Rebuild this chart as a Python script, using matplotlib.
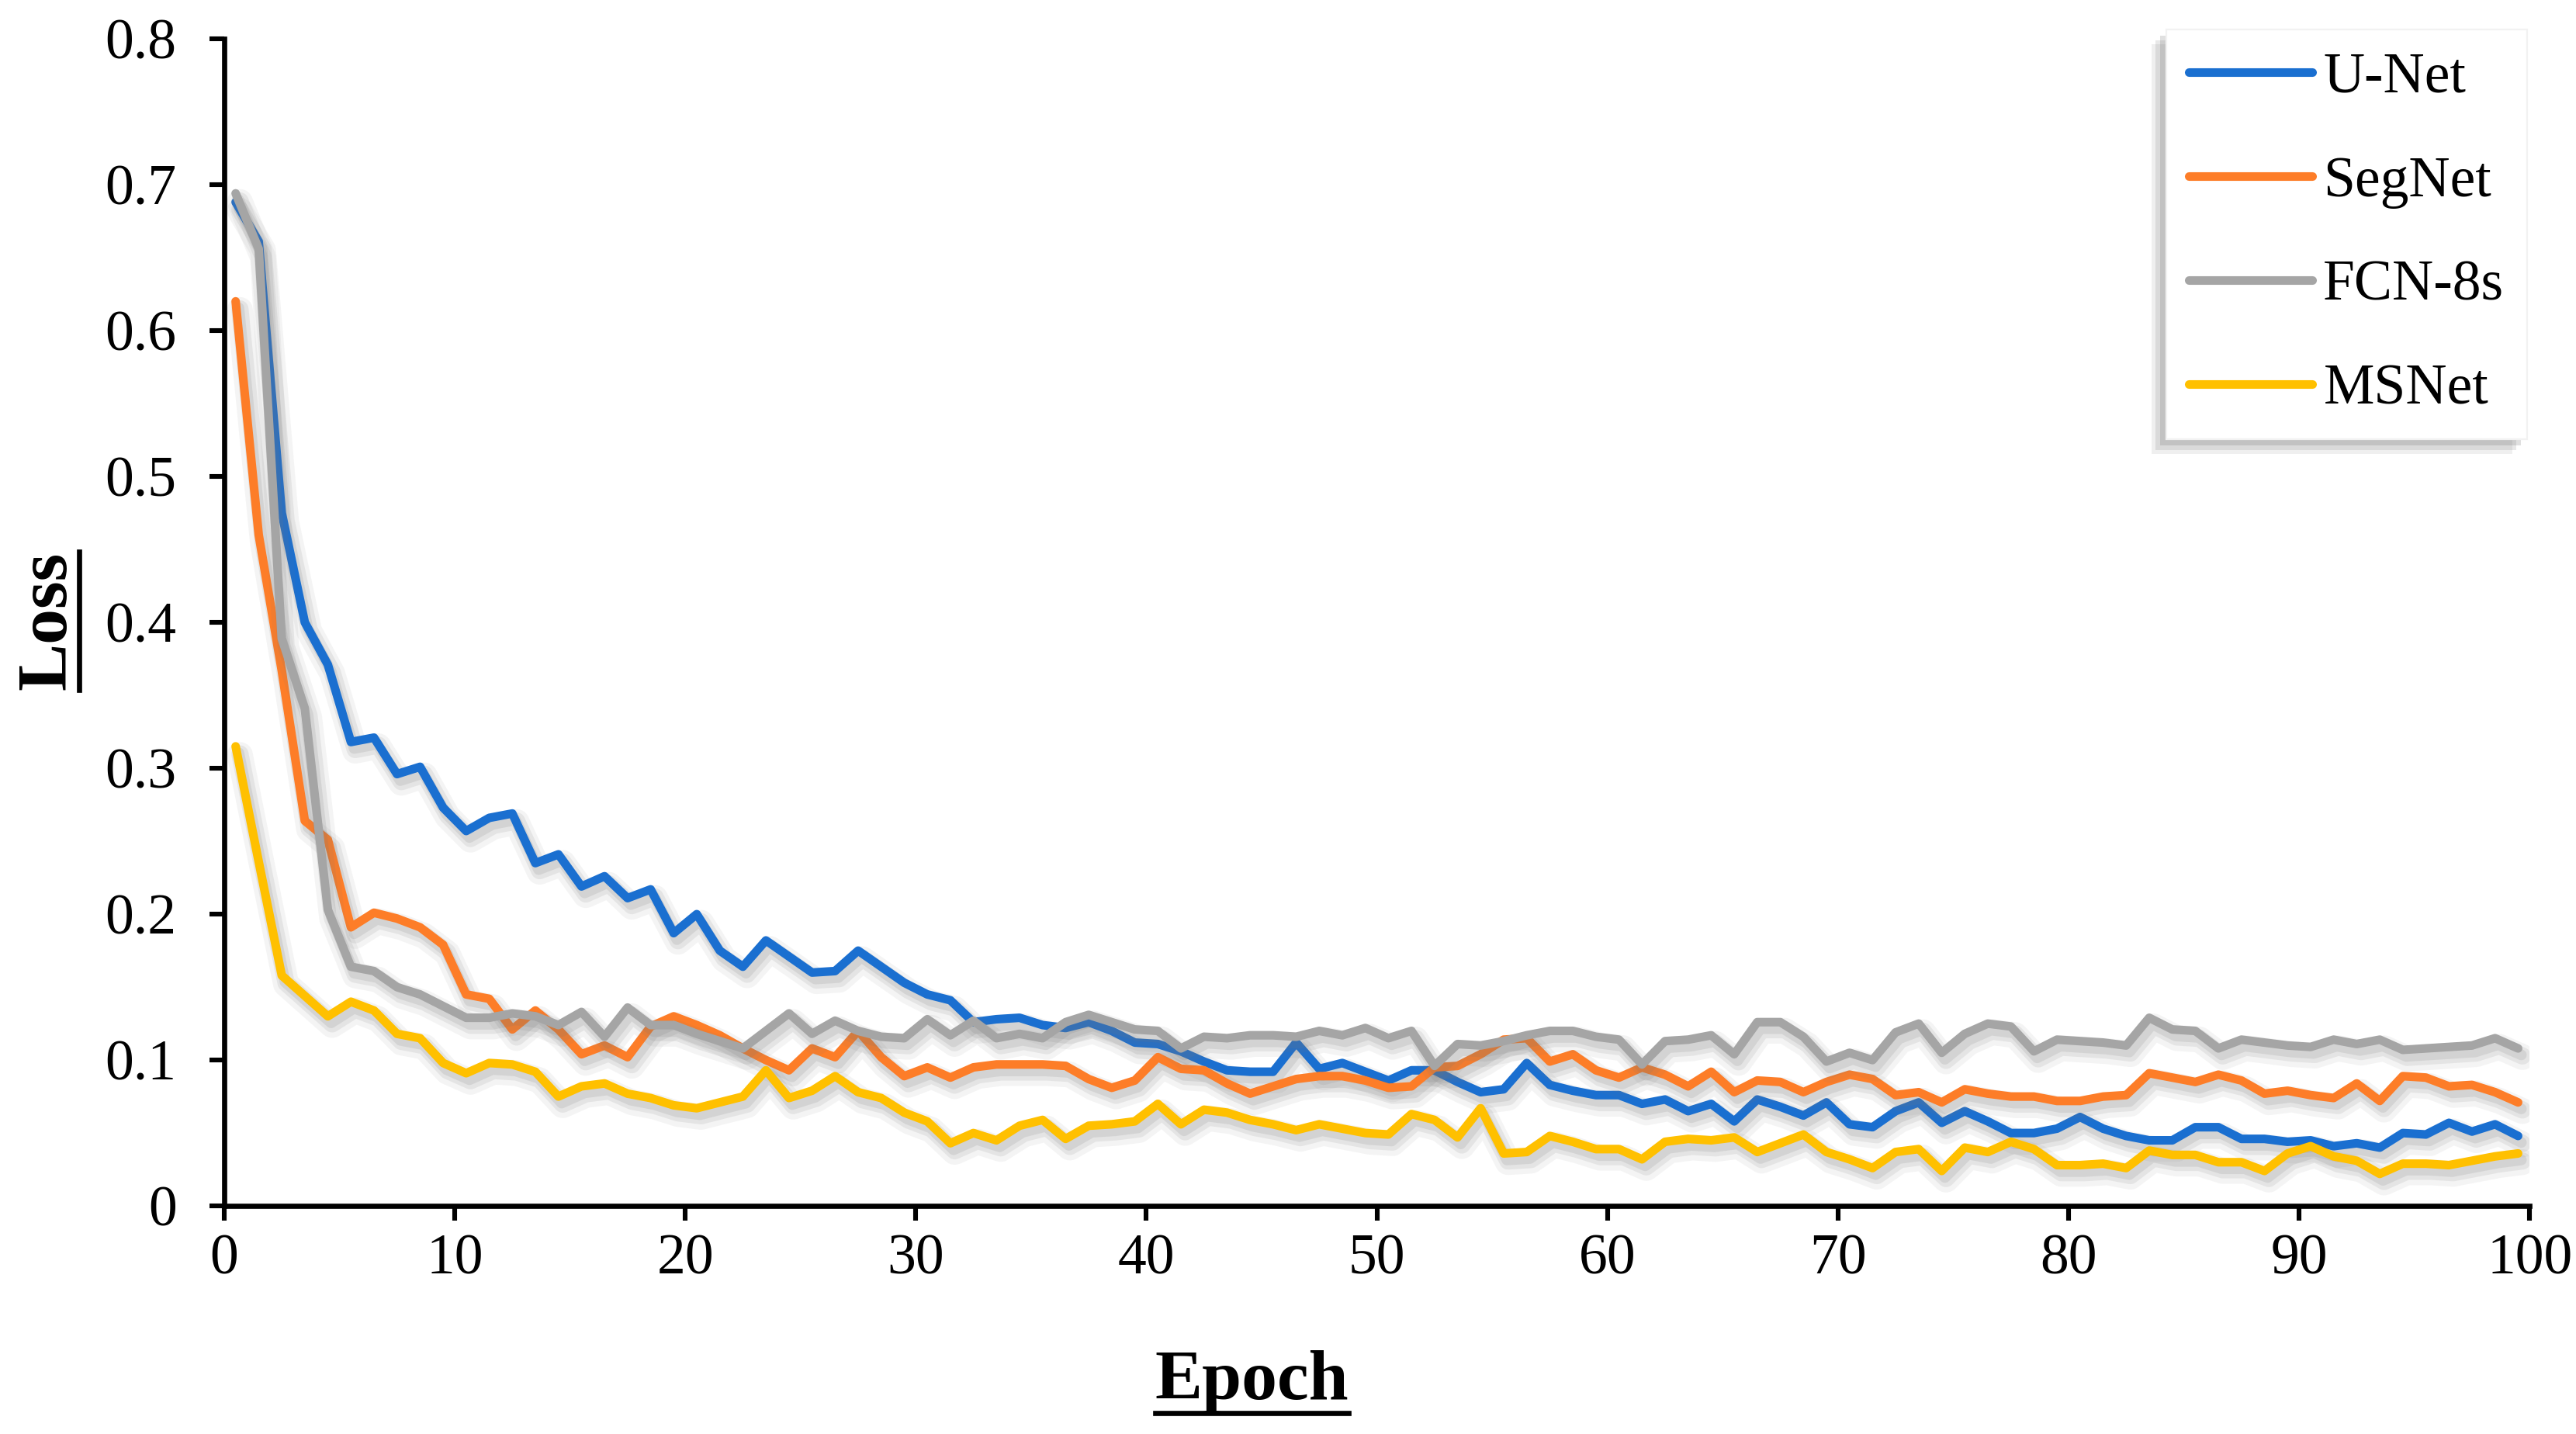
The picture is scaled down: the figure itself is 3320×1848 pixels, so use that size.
import matplotlib
matplotlib.use('Agg')
import matplotlib.pyplot as plt
import matplotlib.patheffects as pe
from matplotlib.lines import Line2D
import numpy as np

epochs = np.arange(1, 101)

unet = [0.688, 0.661, 0.475, 0.400, 0.371, 0.318, 0.321, 0.296, 0.301, 0.273,
        0.257, 0.266, 0.269, 0.235, 0.241, 0.219, 0.226, 0.211, 0.217, 0.187,
        0.200, 0.175, 0.164, 0.182, 0.171, 0.160, 0.161, 0.175, 0.164, 0.153,
        0.145, 0.141, 0.126, 0.128, 0.129, 0.124, 0.122, 0.126, 0.120, 0.112,
        0.111, 0.106, 0.099, 0.093, 0.092, 0.092, 0.112, 0.094, 0.098, 0.092,
        0.086, 0.093, 0.093, 0.085, 0.078, 0.080, 0.098, 0.083, 0.079, 0.076,
        0.076, 0.070, 0.073, 0.065, 0.070, 0.058, 0.073, 0.068, 0.062, 0.071,
        0.056, 0.054, 0.065, 0.071, 0.057, 0.065, 0.058, 0.050, 0.050, 0.053,
        0.061, 0.053, 0.048, 0.045, 0.045, 0.054, 0.054, 0.046, 0.046, 0.044,
        0.045, 0.041, 0.043, 0.040, 0.050, 0.049, 0.057, 0.051, 0.056, 0.048]

segnet = [0.620, 0.460, 0.367, 0.264, 0.251, 0.191, 0.201, 0.197, 0.191, 0.179,
          0.145, 0.142, 0.121, 0.134, 0.121, 0.104, 0.110, 0.102, 0.123, 0.130,
          0.124, 0.117, 0.108, 0.100, 0.093, 0.108, 0.102, 0.120, 0.102, 0.089,
          0.095, 0.088, 0.095, 0.097, 0.097, 0.097, 0.096, 0.087, 0.081, 0.086,
          0.102, 0.094, 0.093, 0.084, 0.077, 0.082, 0.087, 0.089, 0.089, 0.086,
          0.081, 0.082, 0.095, 0.096, 0.104, 0.114, 0.115, 0.099, 0.104, 0.093,
          0.088, 0.095, 0.090, 0.082, 0.092, 0.078, 0.086, 0.085, 0.078, 0.085,
          0.090, 0.087, 0.076, 0.078, 0.071, 0.080, 0.077, 0.075, 0.075, 0.072,
          0.072, 0.075, 0.076, 0.091, 0.088, 0.085, 0.090, 0.086, 0.077, 0.079,
          0.076, 0.074, 0.084, 0.072, 0.089, 0.088, 0.082, 0.083, 0.078, 0.071]

fcn8s = [0.694, 0.656, 0.389, 0.341, 0.203, 0.164, 0.161, 0.150, 0.145, 0.137,
         0.129, 0.129, 0.132, 0.130, 0.124, 0.133, 0.116, 0.136, 0.124, 0.124,
         0.118, 0.113, 0.108, 0.120, 0.132, 0.118, 0.127, 0.120, 0.116, 0.115,
         0.128, 0.117, 0.127, 0.115, 0.118, 0.115, 0.126, 0.131, 0.126, 0.121,
         0.120, 0.108, 0.116, 0.115, 0.117, 0.117, 0.116, 0.120, 0.117, 0.122,
         0.115, 0.120, 0.096, 0.111, 0.110, 0.113, 0.117, 0.120, 0.120, 0.116,
         0.114, 0.097, 0.113, 0.114, 0.117, 0.104, 0.126, 0.126, 0.116, 0.099,
         0.105, 0.100, 0.119, 0.125, 0.105, 0.118, 0.125, 0.123, 0.106, 0.114,
         0.113, 0.112, 0.110, 0.129, 0.121, 0.120, 0.108, 0.114, 0.112, 0.110,
         0.109, 0.114, 0.111, 0.114, 0.107, 0.108, 0.109, 0.110, 0.115, 0.108]

msnet = [0.315, 0.236, 0.158, 0.144, 0.130, 0.140, 0.134, 0.118, 0.115, 0.098,
         0.091, 0.098, 0.097, 0.092, 0.075, 0.082, 0.084, 0.077, 0.074, 0.069,
         0.067, 0.071, 0.075, 0.093, 0.074, 0.079, 0.089, 0.078, 0.074, 0.064,
         0.058, 0.043, 0.050, 0.045, 0.055, 0.059, 0.046, 0.055, 0.056, 0.058,
         0.070, 0.056, 0.066, 0.064, 0.059, 0.056, 0.052, 0.056, 0.053, 0.050,
         0.049, 0.063, 0.059, 0.047, 0.067, 0.036, 0.037, 0.048, 0.044, 0.039,
         0.039, 0.032, 0.044, 0.046, 0.045, 0.047, 0.037, 0.043, 0.049, 0.037,
         0.032, 0.026, 0.037, 0.039, 0.024, 0.040, 0.037, 0.044, 0.039, 0.028,
         0.028, 0.029, 0.026, 0.038, 0.035, 0.035, 0.030, 0.030, 0.024, 0.036,
         0.041, 0.034, 0.031, 0.022, 0.029, 0.029, 0.028, 0.031, 0.034, 0.036]

names = ['U-Net', 'SegNet', 'FCN-8s', 'MSNet']
colors = ['#1a6fd0', '#fd7d28', '#a5a5a5', '#ffc000']
xticks = [0, 10, 20, 30, 40, 50, 60, 70, 80, 90, 100]
yticks = [0, 0.1, 0.2, 0.3, 0.4, 0.5, 0.6, 0.7, 0.8]
ytick_labels = ['0', '0.1', '0.2', '0.3', '0.4', '0.5', '0.6', '0.7', '0.8']

plt.rcParams['font.family'] = ['Liberation Serif', 'DejaVu Serif']

fig = plt.figure(figsize=(16.6, 9.24), dpi=200)
ax = fig.add_axes([0.087, 0.159, 0.895, 0.814])

# soft drop shadow under every line (a few faint layers to fake the blur)
shadow = [pe.SimpleLineShadow(offset=(2, -4), shadow_color='#777777', alpha=0.08, linewidth=12),
          pe.SimpleLineShadow(offset=(2, -3.5), shadow_color='#777777', alpha=0.12, linewidth=8),
          pe.SimpleLineShadow(offset=(1.5, -3), shadow_color='#777777', alpha=0.15, linewidth=5),
          pe.Normal()]

handles = []
for vals, name, c in zip([unet, segnet, fcn8s, msnet], names, colors):
    # category-style axis: epoch i sits in the middle of slot [i-1, i]
    ax.plot(epochs - 0.5, vals, color=c, lw=4, solid_capstyle='round',
            solid_joinstyle='round', path_effects=shadow)
    handles.append(Line2D([], [], color=c, lw=4, solid_capstyle='round'))

ax.set_xlim(0, 100)
ax.set_ylim(0, 0.8)
ax.set_xticks(xticks)
ax.set_yticks(yticks)
ax.set_yticklabels(ytick_labels)
ax.tick_params(direction='out', length=7, width=2.2, labelsize=26.5, colors='black')
ax.tick_params(axis='y', pad=15)
ax.tick_params(axis='x', pad=6)
for s in ['top', 'right']:
    ax.spines[s].set_visible(False)
for s in ['left', 'bottom']:
    ax.spines[s].set_linewidth(2.4)
    ax.spines[s].set_color('black')

leg = ax.legend(handles, names, loc='upper right',
                bbox_to_anchor=(3257 / 3320, 1 - 38 / 1848), bbox_transform=fig.transFigure,
                fontsize=26.5, handlelength=2.15, handletextpad=0.2, labelspacing=0.9,
                borderpad=0.4, borderaxespad=0, fancybox=False, framealpha=1,
                edgecolor='#f2f2f2')
leg.get_frame().set_linewidth(0.8)
leg.get_frame().set_path_effects([
    pe.SimplePatchShadow(offset=(-7, -7), shadow_rgbFace='#666666', alpha=0.10),
    pe.SimplePatchShadow(offset=(-5, -5), shadow_rgbFace='#666666', alpha=0.15),
    pe.SimplePatchShadow(offset=(-3, -3), shadow_rgbFace='#666666', alpha=0.20),
    pe.Normal()])

# axis titles, bold and underlined
t_loss = fig.text(84 / 3320, 0.567, 'Loss', fontsize=33, fontweight='bold', rotation=90,
                  ha='center', va='baseline', rotation_mode='anchor')
t_epoch = fig.text(0.486, 1 - 1803 / 1848, 'Epoch', fontsize=33, fontweight='bold',
                   ha='center', va='baseline')

fig.canvas.draw()
r = fig.canvas.get_renderer()
W, H = fig.get_size_inches() * fig.dpi
off = 0.2 * 33 * fig.dpi / 72

b = t_epoch.get_window_extent(r)
ybase = t_epoch.get_position()[1] * H - off
fig.add_artist(Line2D([b.x0 / W, b.x1 / W], [ybase / H, ybase / H],
                      transform=fig.transFigure, color='black', lw=2.4))

b = t_loss.get_window_extent(r)
xbase = t_loss.get_position()[0] * W + off
fig.add_artist(Line2D([xbase / W, xbase / W], [b.y0 / H, b.y1 / H],
                      transform=fig.transFigure, color='black', lw=2.4))

fig.savefig('out.png', dpi=200, facecolor='white')
